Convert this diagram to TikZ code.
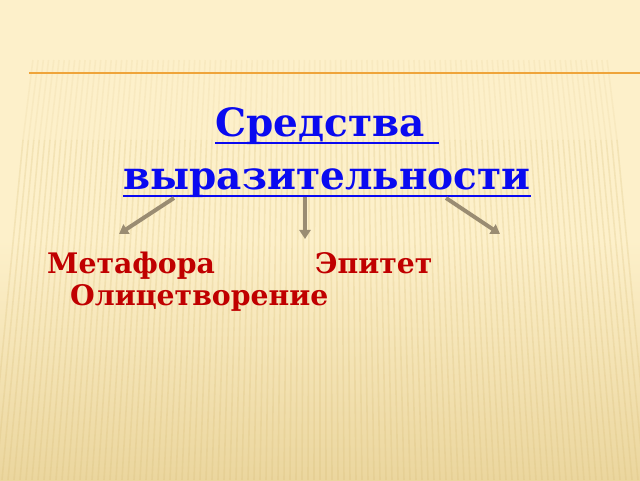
\documentclass[tikz,border=0pt]{standalone}
\usepackage{fontspec}
\setmainfont{DejaVu Serif}
\usetikzlibrary{arrows.meta}
\definecolor{bgtop}{HTML}{FDF0CA}
\definecolor{bgbot}{HTML}{EBD69E}
\definecolor{stripe}{HTML}{D8BD78}
\definecolor{rule}{HTML}{EFA43A}
\definecolor{ttl}{HTML}{0A0AF0}
\definecolor{term}{HTML}{C00000}
\definecolor{arr}{HTML}{9A8C72}
\tikzset{
  title/.style={font=\bfseries\fontsize{39}{44}\selectfont, text=ttl, inner sep=0pt, anchor=base},
  termtext/.style={font=\bfseries\fontsize{28.3}{32}\selectfont, text=term, inner sep=0pt, anchor=base west},
  uline/.style={draw=ttl, line width=2pt},
  branch/.style={draw=arr, line width=4pt, -{Triangle[length=9pt,width=11pt]}},
}
\begin{document}
\begin{tikzpicture}[x=1pt,y=1pt]
\useasboundingbox (0,0) rectangle (640,480);
\shade[top color=bgtop, bottom color=bgbot, middle color=bgtop] (0,0) rectangle (640,480);
\foreach \i in {0,...,110}{
  \pgfmathsetmacro{\xb}{\i*6-10}
  \pgfmathsetmacro{\xm}{320+(\xb-320)*0.90}
  \pgfmathsetmacro{\xt}{320+(\xb-320)*0.87}
  \draw[stripe, opacity=0.25, line width=1.6pt] (\xb,0) -- (\xm,340);
  \draw[stripe, opacity=0.12, line width=1.6pt] (\xm,340) -- (\xt,420);
}
\draw[rule, line width=2.5pt] (29,407) -- (640,407);
% title
\node[title] (t1) at (327,343) {Средства\hphantom{\ }};
\node[title] (t2) at (327,290) {выразительности};
\draw[uline] ([yshift=-6pt]t1.base west) -- ([yshift=-6pt]t1.base east);
\draw[uline] ([yshift=-6pt]t2.base west) -- ([yshift=-6pt]t2.base east);
% terms
\node[termtext] (m) at (47,207) {Метафора};
\node[termtext] (e) at (315,207) {Эпитет};
\node[termtext] (o) at (70,175) {Олицетворение};
% arrows
\coordinate (l0) at (174,282); \coordinate (l1) at (119,246);
\coordinate (c0) at (305,283); \coordinate (c1) at (305,241);
\coordinate (r0) at (446,282); \coordinate (r1) at (500,246);
\draw[branch] (l0) -- (l1);
\draw[branch] (c0) -- (c1);
\draw[branch] (r0) -- (r1);
\end{tikzpicture}
\end{document}
